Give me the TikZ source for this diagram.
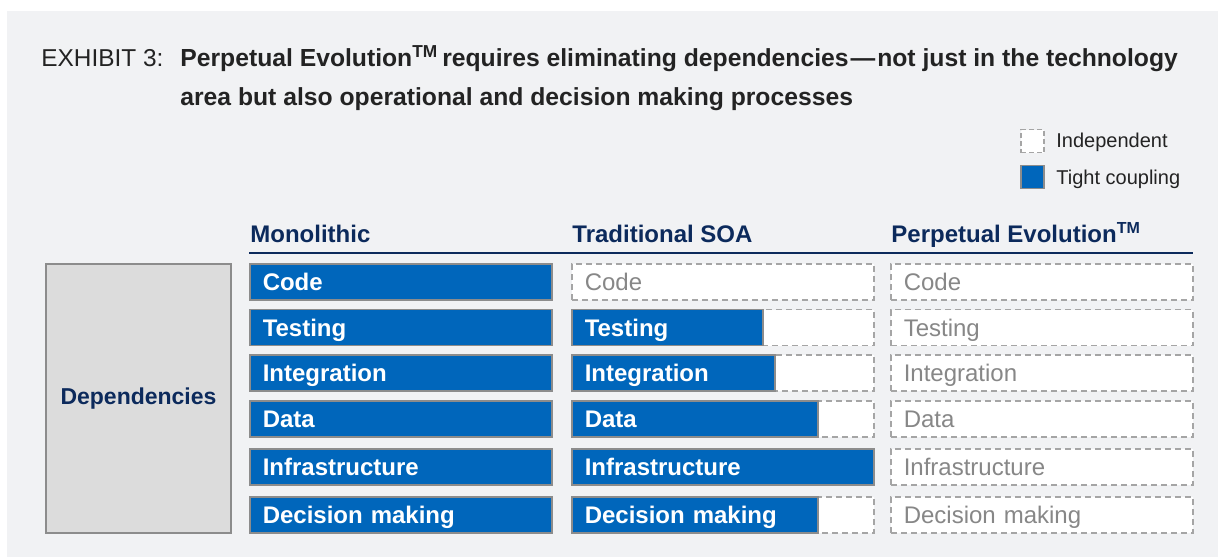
\documentclass[tikz,border=0pt]{standalone}
\usepackage{fontspec}
\setmainfont{Liberation Sans}
\usepackage{tikz}

\definecolor{panel}{RGB}{241,242,244}
\definecolor{coupled}{RGB}{0,102,187}
\definecolor{navy}{RGB}{12,42,92}
\definecolor{depfill}{RGB}{220,220,220}
\definecolor{rim}{RGB}{140,140,140}
\definecolor{dashrim}{RGB}{165,165,165}
\definecolor{faint}{RGB}{135,135,135}
\definecolor{ink}{RGB}{35,35,35}

\tikzset{
	cell/.style={anchor=west, minimum width=151pt, minimum height=18pt, inner xsep=6.5pt, inner ysep=0pt,
		text width=138pt, align=left, text height=8.6pt, text depth=0pt, font=\fontsize{12}{14}\selectfont},
	tight/.style={cell, fill=coupled, draw=rim, line width=0.75pt, text=white, font=\fontsize{12}{14}\selectfont\bfseries},
	free/.style={cell, fill=white, draw=dashrim, line width=0.75pt, dash pattern=on 3pt off 2pt, text=faint},
	colhead/.style={anchor=base west, inner sep=0pt, text=navy, font=\fontsize{12}{14}\selectfont\bfseries},
	keytext/.style={anchor=west, inner sep=0pt, text=ink, font=\fontsize{10}{12}\selectfont},
	titletext/.style={anchor=base west, inner sep=0pt, text=ink, font=\fontsize{12.35}{14}\selectfont\bfseries}
}

\begin{document}
\begin{tikzpicture}[x=0.5pt, y=-0.5pt]
		\useasboundingbox (0,0) rectangle (1218,557);
		\fill[panel] (7,11) rectangle (1218,557);
		\node[titletext, font=\fontsize{12.2}{14}\selectfont] (exhibit) at (41,66) {EXHIBIT 3:};
		\node[titletext] (title-a) at (180,66) {Perpetual Evolution\textsuperscript{TM}\kern2pt requires eliminating dependencies\kern1pt—\kern1pt not just in the technology};
		\node[titletext] (title-b) at (180,105) {area but also operational and decision making processes};
		\node[draw=dashrim, fill=white, line width=0.75pt, dash pattern=on 2.5pt off 1.5pt, minimum size=11.5pt, inner sep=0pt] (key-free) at (1032.5,141) {};
		\node[keytext] (key-free-text) at (1056,142.5) {Independent};
		\node[draw=rim, fill=coupled, line width=0.75pt, minimum size=11.5pt, inner sep=0pt] (key-tight) at (1032.5,177) {};
		\node[keytext] (key-tight-text) at (1056,179) {Tight coupling};
		\node[colhead] (mono-head) at (250,242) {Monolithic};
		\node[colhead] (soa-head) at (572,242) {Traditional SOA};
		\node[colhead] (pe-head) at (891,242) {Perpetual Evolution\textsuperscript{TM}};
		\draw[navy, line width=1pt] (249,253) -- (1193,253);
		\node[draw=rim, fill=depfill, line width=0.75pt, minimum width=92.5pt, minimum height=134.5pt,
			text=navy, font=\fontsize{11.5}{14}\selectfont\bfseries] (deps) at (138.5,398.5) {Dependencies};
		\foreach \y/\lbl/\w [count=\r] in {282/Code/0, 327.5/Testing/95.5, 373/Integration/101.5,
			419/Data/123, 467/Infrastructure/151, 515/Decision making/123}
		{
			\node[tight] (mono-\r) at (249,\y) {\lbl};
			\node[free] (pe-\r) at (890,\y) {\lbl};
			\ifdim\w pt>0pt
				\pgfmathsetmacro\tw{\w-13}
				\node[free] (soa-\r) at (571,\y) {};
				\node[tight, minimum width=\w pt, text width=\tw pt] (soa-\r-tight) at (571,\y) {\lbl};
			\else
				\node[free] (soa-\r) at (571,\y) {\lbl};
			\fi
		}
	\end{tikzpicture}
\end{document}
